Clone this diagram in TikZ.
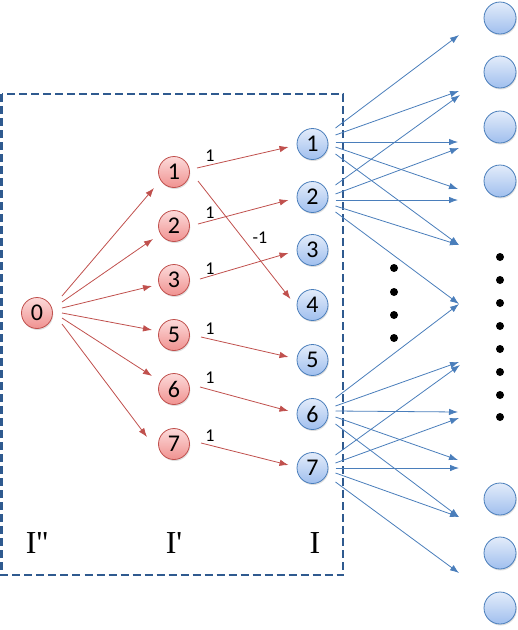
\documentclass[tikz,border=0pt]{standalone}
\usepackage{fontspec}
\setmainfont{Liberation Serif}
\newfontfamily\calib{Carlito}
\usetikzlibrary{arrows.meta,calc,shadows}
\definecolor{rbord}{HTML}{C0504D}
\definecolor{rtop}{HTML}{FCDADA}
\definecolor{rbot}{HTML}{F09290}
\definecolor{bbord}{HTML}{4A7EBB}
\definecolor{btop}{HTML}{E3ECFA}
\definecolor{bbot}{HTML}{A0BFEE}
\definecolor{boxc}{HTML}{2F5A8F}
\tikzset{
  rnode/.style={circle,draw=rbord,line width=0.8pt,top color=rtop,bottom color=rbot,
    minimum size=31pt,inner sep=0pt,font=\calib\fontsize{24}{24}\selectfont,
    drop shadow={opacity=0.25,shadow xshift=0.8pt,shadow yshift=-1.5pt}},
  bnode/.style={circle,draw=bbord,line width=0.8pt,top color=btop,bottom color=bbot,
    minimum size=31pt,inner sep=0pt,font=\calib\fontsize{24}{24}\selectfont,
    drop shadow={opacity=0.25,shadow xshift=0.8pt,shadow yshift=-1.5pt}},
  onode/.style={bnode,minimum size=32pt},
  rarr/.style={draw=rbord,line width=0.8pt,-{Latex[length=9pt,width=6.5pt]}},
  barr/.style={draw=bbord,line width=0.8pt,-{Latex[length=9pt,width=6.5pt]}},
  elab/.style={font=\calib\fontsize{18}{18}\selectfont,inner sep=0pt},
  layer/.style={font=\fontsize{32}{32}\selectfont,inner sep=0pt},
  dotn/.style={circle,fill=black,minimum size=8pt,inner sep=0pt},
}
\begin{document}
\begin{tikzpicture}[x=1pt,y=-1pt]
\useasboundingbox (0,0) rectangle (518,630);
% dashed box
\draw[boxc,line width=2.4pt,dash pattern=on 8pt off 4pt] (1.5,94) rectangle (343,575);
% nodes
\node[rnode] (n0) at (37,313) {0};
\node[rnode] (p1) at (174,172) {1};
\node[rnode] (p2) at (174,226) {2};
\node[rnode] (p3) at (174,280) {3};
\node[rnode] (p5) at (174,335) {5};
\node[rnode] (p6) at (174,389) {6};
\node[rnode] (p7) at (174,444) {7};
\node[bnode] (i1) at (312.5,144) {1};
\node[bnode] (i2) at (312.5,197) {2};
\node[bnode] (i3) at (312.5,250) {3};
\node[bnode] (i4) at (312.5,305) {4};
\node[bnode] (i5) at (312.5,360) {5};
\node[bnode] (i6) at (312.5,414) {6};
\node[bnode] (i7) at (312.5,468) {7};
\foreach \y/\n in {18/o1,72/o2,127/o3,181/o4,499/o5,553/o6,608/o7}
  \node[onode] (\n) at (500,\y) {};
% dots
\foreach \y [count=\k] in {268,292,315,338} \node[dotn] (m\k) at (394,\y) {};
\foreach \y [count=\k] in {257,280,303,326,349,372,395,417} \node[dotn] (r\k) at (500,\y) {};
% layer labels
\node[layer] (L2) at (37,543) {I\textquotesingle\textquotesingle};
\node[layer] (L1) at (174,543) {I\textquotesingle};
\node[layer] (L0) at (315,543) {I};
% red arrows from 0
\draw[rarr] ($(n0)+(25,-17)$) -- ($(p1)+(-20,16)$);
\draw[rarr] ($(n0)+(25,-11)$) -- ($(p2)+(-21,13)$);
\draw[rarr] ($(n0)+(25,-5)$) -- ($(p3)+(-22,6)$);
\draw[rarr] ($(n0)+(25,0)$) -- ($(p5)+(-22,-5)$);
\draw[rarr] ($(n0)+(25,5)$) -- ($(p6)+(-22,-13)$);
\draw[rarr] ($(n0)+(25,11)$) -- ($(p7)+(-27,-7)$);
% red arrows I' -> I
\draw[rarr] ($(p1)+(23,-4)$) -- ($(i1)+(-24,3)$);
\draw[rarr] ($(p2)+(24,-2)$) -- ($(i2)+(-24,3)$);
\draw[rarr] ($(p3)+(26,-1)$) -- ($(i3)+(-24,3)$);
\draw[rarr] ($(p5)+(27,2)$) -- ($(i5)+(-24,-3)$);
\draw[rarr] ($(p6)+(26,-2)$) -- ($(i6)+(-24,-3)$);
\draw[rarr] ($(p7)+(27,-1)$) -- ($(i7)+(-24,-3)$);
\draw[rarr] ($(p1)+(24,9)$) -- ($(i4)+(-22,-6)$);
% edge labels
\node[elab] (w1) at (210,156) {1};
\node[elab] (w2) at (210,213) {1};
\node[elab] (w3) at (210,269) {1};
\node[elab] (w5) at (210,329) {1};
\node[elab] (w6) at (210,378) {1};
\node[elab] (w7) at (210,436) {1};
\node[elab] (w4) at (260,238) {-1};
% blue targets
\coordinate (tA) at (459,35);
\coordinate (tB1) at (459,91);
\coordinate (tB2) at (460,95);
\coordinate (tC1) at (458,142);
\coordinate (tC2) at (459,148);
\coordinate (tD1) at (458,189);
\coordinate (tD2) at (458,200);
\coordinate (tE) at (459,245);
\coordinate (tF) at (459,304);
\coordinate (tG1) at (459,362);
\coordinate (tG2) at (460,365);
\coordinate (tH1) at (458,412);
\coordinate (tH2) at (459,418);
\coordinate (tI1) at (458,460);
\coordinate (tI2) at (459,468);
\coordinate (tJ) at (459,517);
\coordinate (tK) at (459,573);
% blue arrows
\draw[barr] ($(i1)+(23,-16)$) -- (tA);
\draw[barr] ($(i1)+(23,-9)$) -- (tB1);
\draw[barr] ($(i1)+(23,-2)$) -- (tC1);
\draw[barr] ($(i1)+(23,3)$) -- (tD1);
\draw[barr] ($(i1)+(23,10)$) -- (tE);
\draw[barr] ($(i2)+(23,-12)$) -- (tB2);
\draw[barr] ($(i2)+(23,-3)$) -- (tC2);
\draw[barr] ($(i2)+(23,3)$) -- (tD2);
\draw[barr] ($(i2)+(23,9)$) -- (tE);
\draw[barr] ($(i2)+(23,15)$) -- (tF);
\draw[barr] ($(i6)+(23,-16)$) -- (tF);
\draw[barr] ($(i6)+(23,-8)$) -- (tG1);
\draw[barr] ($(i6)+(23,-3)$) -- (tH1);
\draw[barr] ($(i6)+(23,3)$) -- (tI1);
\draw[barr] ($(i6)+(23,10)$) -- (tJ);
\draw[barr] ($(i7)+(23,-13)$) -- (tG2);
\draw[barr] ($(i7)+(23,-5)$) -- (tH2);
\draw[barr] ($(i7)+(23,0)$) -- (tI2);
\draw[barr] ($(i7)+(23,5)$) -- (tJ);
\draw[barr] ($(i7)+(23,14)$) -- (tK);
\end{tikzpicture}
\end{document}
